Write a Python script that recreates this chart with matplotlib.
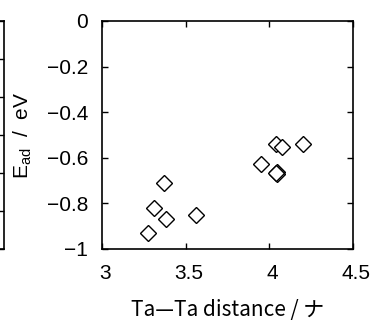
import matplotlib
matplotlib.use("Agg")
import matplotlib.pyplot as plt
from matplotlib.transforms import ScaledTranslation

# data
ta_dist = [3.273, 3.311, 3.383, 3.373, 3.562, 3.950, 4.038, 4.074, 4.203, 4.044, 4.044, 4.042]
e_ad = [-0.931, -0.822, -0.870, -0.709, -0.851, -0.629, -0.539, -0.551, -0.539, -0.661, -0.671, -0.666]
xticks = [3, 3.5, 4, 4.5]
xticklabels = ["3", "3.5", "4", "4.5"]
yticks = [0, -0.2, -0.4, -0.6, -0.8, -1]
yticklabels = ["0", "\u22120.2", "\u22120.4", "\u22120.6", "\u22120.8", "\u22121"]

plt.rcParams['font.family'] = ['Liberation Sans', 'DejaVu Sans']
plt.rcParams['mathtext.fontset'] = 'custom'
plt.rcParams['mathtext.rm'] = 'Liberation Sans'
plt.rcParams['mathtext.it'] = 'Liberation Sans'

W, H = 377, 322
fig = plt.figure(figsize=(W / 100, H / 100), dpi=100)

x0, x1, y0, y1 = 102, 353, 21, 249
ax = fig.add_axes([x0 / W, 1 - y1 / H, (x1 - x0) / W, (y1 - y0) / H])

ax.plot(ta_dist, e_ad, linestyle='none', marker='D', markersize=8,
        markerfacecolor='white', markeredgecolor='black', markeredgewidth=1.0)

ax.set_xlim(3, 4.5)
ax.set_ylim(-1, 0)
ax.set_xticks(xticks)
ax.set_xticklabels(xticklabels)
ax.set_yticks(yticks)
ax.set_yticklabels(yticklabels)
ax.tick_params(direction='in', length=4, width=1, labelsize=15,
               top=True, right=True)
ax.tick_params(axis='x', pad=11)
ax.tick_params(axis='y', pad=10)
for s in ax.spines.values():
    s.set_linewidth(1.2)
shift = ScaledTranslation(3 / 100, 0, fig.dpi_scale_trans)
for lab in ax.get_xticklabels():
    lab.set_transform(lab.get_transform() + shift)

ax.set_ylabel(r'E$_{\rm ad}$  /  eV', fontsize=15, labelpad=9)
ax.set_xlabel('Ta\u2014Ta distance / ナ', fontsize=15,
              family=['Noto Sans CJK JP', 'DejaVu Sans'], labelpad=11)

# partial neighbouring panel at the left edge
xr = 4.3
ax2 = fig.add_axes([(xr - 200) / W, 1 - y1 / H, 200 / W, (y1 - y0) / H])
ax2.set_ylim(0, 6)
ax2.set_xlim(0, 1)
ax2.set_yticks(range(7))
ax2.set_xticks([])
ax2.tick_params(axis='y', direction='in', length=4, width=1, left=False,
                right=True, labelleft=False)
for s in ax2.spines.values():
    s.set_linewidth(1.2)

fig.savefig('out.png', dpi=100)
